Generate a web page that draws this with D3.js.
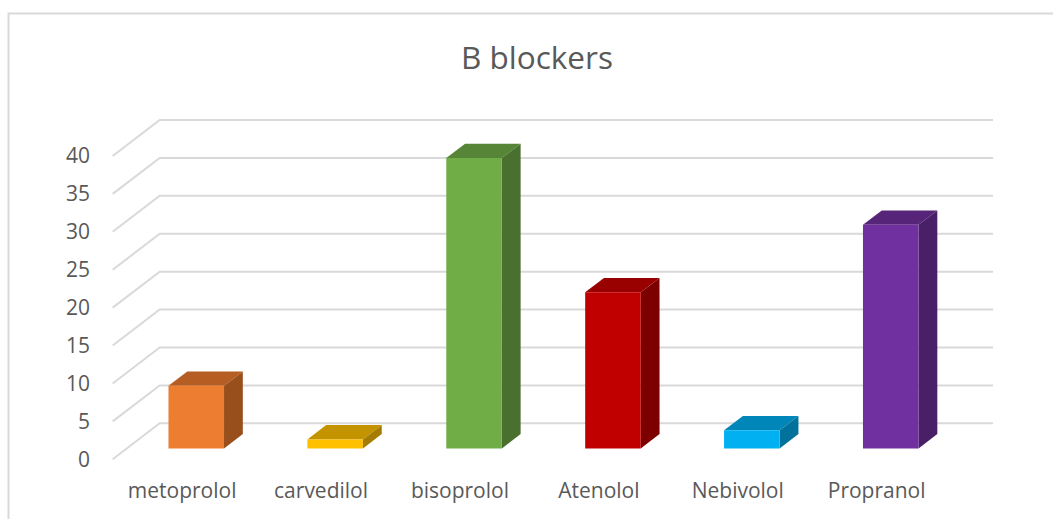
<!DOCTYPE html>
<html>
<head>
<meta charset="utf-8">
<script src="https://cdn.jsdelivr.net/npm/d3@7/dist/d3.min.js"></script>
<style>
  html, body { margin: 0; padding: 0; background: #fff; }
  svg { display: block; }
  text { font-family: "Open Sans", "Noto Sans", sans-serif; fill: #595959; }
</style>
</head>
<body>
<svg id="chart" width="1053" height="519"></svg>
<script>
const chartTitle = "B blockers";
const categories = ["metoprolol", "carvedilol", "bisoprolol", "Atenolol", "Nebivolol", "Propranol"];
const values = [8.26, 1.2, 38.3, 20.6, 2.4, 29.5];
const frontColors = ["#ED7D31", "#FFC000", "#70AD47", "#C00000", "#00B0F0", "#7030A0"];
const topColors = ["#B55D22", "#C49400", "#568537", "#990000", "#0086B8", "#562579"];
const sideColors = ["#994F1C", "#A67C00", "#49702E", "#7D0000", "#00729C", "#491F68"];
const yTicks = [0, 5, 10, 15, 20, 25, 30, 35, 40];

const svg = d3.select("#chart");

// Front plane of the 3D plot box; the depth scale shifts points toward the back wall.
const x = d3.scaleBand().domain(categories).range([112.7, 946.1]).paddingInner(0.6).paddingOuter(0.3);
const y = d3.scaleLinear().domain([0, 40]).range([459.3, 156]);
const depthX = d3.scaleLinear().domain([0, 1]).range([0, 47]);
const depthY = d3.scaleLinear().domain([0, 1]).range([0, -36]);

const project = (px, value, depth) => [px + depthX(depth), y(value) + depthY(depth)];
const polygon = d3.line();

// Chart frame: only the top and left edges fall inside the view.
svg.append("path")
  .attr("d", polygon([[8.5, 519], [8.5, 13.5], [1053, 13.5]]))
  .attr("fill", "none").attr("stroke", "#D9D9D9").attr("stroke-width", 2);

// Gridlines run along the side wall, then across the back wall.
const [plotLeft, plotRight] = x.range();
svg.append("g").selectAll("path").data(yTicks).join("path")
  .attr("d", t => polygon([project(plotLeft, t, 0), project(plotLeft, t, 1), project(plotRight, t, 1)]))
  .attr("fill", "none").attr("stroke", "#D9D9D9").attr("stroke-width", 2);

// Each bar occupies a slab of the depth range, drawn as top, side and front faces.
const nearDepth = 0.3, farDepth = 0.7;
const bars = svg.append("g").selectAll("g").data(categories).join("g");

bars.append("path").attr("fill", (d, i) => topColors[i])
  .attr("d", (d, i) => {
    const a = x(d), b = a + x.bandwidth(), v = values[i];
    return polygon([project(a, v, nearDepth), project(b, v, nearDepth), project(b, v, farDepth), project(a, v, farDepth)]) + "Z";
  });
bars.append("path").attr("fill", (d, i) => sideColors[i])
  .attr("d", (d, i) => {
    const b = x(d) + x.bandwidth(), v = values[i];
    return polygon([project(b, 0, nearDepth), project(b, v, nearDepth), project(b, v, farDepth), project(b, 0, farDepth)]) + "Z";
  });
bars.append("path").attr("fill", (d, i) => frontColors[i])
  .attr("d", (d, i) => {
    const a = x(d), b = a + x.bandwidth(), v = values[i];
    return polygon([project(a, 0, nearDepth), project(b, 0, nearDepth), project(b, v, nearDepth), project(a, v, nearDepth)]) + "Z";
  });

// Value axis labels sit left of the front plane.
const yAxis = svg.append("g").attr("transform", "translate(100,0)")
  .call(d3.axisLeft(y).tickValues(yTicks).tickSize(0).tickPadding(10));
yAxis.select(".domain").remove();
yAxis.selectAll("text").style("font-size", "21px").attr("dy", "0.32em");
yAxis.attr("font-family", null);

// Category labels are centred on each band of the front plane.
const xAxis = svg.append("g").attr("transform", "translate(0,478)")
  .call(d3.axisBottom(x).tickSize(0).tickPadding(0));
xAxis.select(".domain").remove();
xAxis.selectAll("text").style("font-size", "21px").attr("dy", "0.93em");
xAxis.attr("font-family", null);

svg.append("text")
  .attr("x", 537).attr("y", 69)
  .attr("text-anchor", "middle")
  .style("font-size", "31.5px")
  .text(chartTitle);
</script>
</body>
</html>
